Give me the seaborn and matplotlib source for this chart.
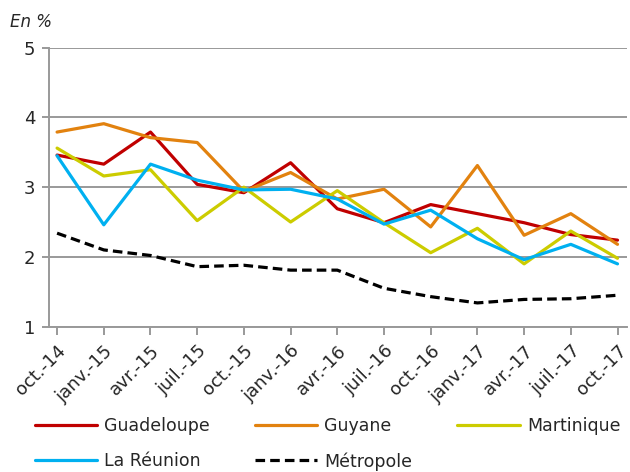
import matplotlib
matplotlib.use("Agg")
import matplotlib.pyplot as plt
import seaborn as sns
import pandas as pd

periods = ["oct.-14", "janv.-15", "avr.-15", "juil.-15", "oct.-15", "janv.-16",
           "avr.-16", "juil.-16", "oct.-16", "janv.-17", "avr.-17", "juil.-17", "oct.-17"]
guadeloupe = [3.46, 3.33, 3.79, 3.04, 2.92, 3.35, 2.69, 2.49, 2.75, 2.62, 2.49, 2.32, 2.24]
guyane = [3.79, 3.91, 3.71, 3.64, 2.94, 3.21, 2.83, 2.97, 2.43, 3.31, 2.31, 2.62, 2.18]
martinique = [3.56, 3.16, 3.25, 2.52, 3.00, 2.50, 2.95, 2.49, 2.06, 2.41, 1.90, 2.37, 1.98]
la_reunion = [3.45, 2.46, 3.33, 3.10, 2.96, 2.97, 2.83, 2.47, 2.67, 2.26, 1.96, 2.18, 1.90]
metropole = [2.34, 2.10, 2.02, 1.86, 1.88, 1.81, 1.81, 1.55, 1.43, 1.34, 1.39, 1.40, 1.45]

series = {
    "Guadeloupe": guadeloupe,
    "Guyane": guyane,
    "Martinique": martinique,
    "La Réunion": la_reunion,
    "Métropole": metropole,
}
colors = {
    "Guadeloupe": "#C00000",
    "Guyane": "#E2820F",
    "Martinique": "#CCCC00",
    "La Réunion": "#00B0F0",
    "Métropole": "#000000",
}

rows = []
for name, vals in series.items():
    for i, (p, v) in enumerate(zip(periods, vals)):
        rows.append({"pos": i, "periode": p, "serie": name, "valeur": v})
df = pd.DataFrame(rows)

sns.set_theme(style="white")
plt.rcParams["font.family"] = ["DejaVu Sans"]

fig = plt.figure(figsize=(6.3, 4.72), dpi=100)
ax = fig.add_axes([0.078, 0.308, 0.917, 0.591])

for name in series:
    sub = df[df["serie"] == name]
    sns.lineplot(data=sub, x="pos", y="valeur", ax=ax, color=colors[name],
                 linewidth=2.3, label=name,
                 linestyle=(0, (3, 1.6)) if name == "Métropole" else "-")

ax.set_ylim(1, 5)
ax.set_yticks([1, 2, 3, 4, 5])
ax.set_xlim(-0.17, 12.2)
ax.set_xticks(range(len(periods)))
ax.set_xticklabels(periods, rotation=45, ha="right", rotation_mode="anchor", fontsize=13)
ax.tick_params(axis="y", labelsize=13, length=5, color="#888888", width=1.2, pad=5)
ax.tick_params(axis="x", length=6, color="#888888", width=1.2, pad=5, direction="out")
ax.tick_params(axis="both", which="both", bottom=True, left=True)
ax.set_xlabel("")
ax.set_ylabel("")
ax.yaxis.grid(True, color="#999999", linewidth=1.4)
ax.set_axisbelow(True)
for s in ["top", "right"]:
    ax.spines[s].set_visible(False)
for s in ["left", "bottom"]:
    ax.spines[s].set_color("#999999")
    ax.spines[s].set_linewidth(1.4)

ax.get_legend().remove()
handles, labels = ax.get_legend_handles_labels()
order = ["Guadeloupe", "La Réunion", "Guyane", "Métropole", "Martinique"]
hmap = dict(zip(labels, handles))
fig.legend([hmap[o] for o in order], order, ncol=3, loc="lower left",
           bbox_to_anchor=(0.03, -0.03), frameon=False, fontsize=12.5,
           handlelength=3.6, columnspacing=2.6, handletextpad=0.4,
           labelspacing=1.0)

fig.text(0.016, 0.953, "En %", fontsize=12, style="italic", ha="left", va="center")

fig.savefig("out.png", dpi=100)
